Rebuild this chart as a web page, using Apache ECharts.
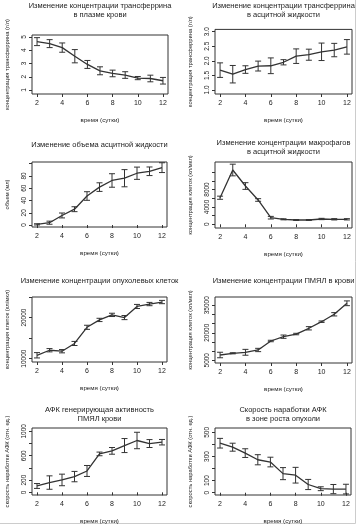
<!DOCTYPE html>
<html><head><meta charset="utf-8">
<script src="https://cdn.jsdelivr.net/npm/echarts@6/dist/echarts.min.js"></script>
<style>html,body{margin:0;padding:0;background:#fff}#c{width:358px;height:528px}</style>
</head><body><div id="c"></div>
<script>
const days = [2,3,4,5,6,7,8,9,10,11,12];
const xTicks = [2,4,6,8,10,12];

const titles = [
  "Изменение концентрации трансферрина\nв плазме крови",
  "Изменение концентрации трансферрина\nв асцитной жидкости",
  "Изменение объема асцитной жидкости",
  "Изменение концентрации макрофагов\nв асцитной жидкости",
  "Изменение концентрации опухолевых клеток",
  "Изменение концентрации ПМЯЛ в крови",
  "АФК генерирующая активность\nПМЯЛ крови",
  "Скорость наработки АФК\nв зоне роста опухоли"
];
const yNames = [
  "концентрация трансферрина (г/л)",
  "концентрация трансферрина (г/л)",
  "объем (мл)",
  "концентрация клеток (кл/мкл)",
  "концентрация клеток (кл/мкл)",
  "концентрация клеток (кл/мкл)",
  "скорость наработки АФК (отн. ед.)",
  "скорость наработки АФК (отн. ед.)"
];
const xName = "время (сутки)";

const mean1 = [4.65,4.5,4.2,3.55,2.93,2.45,2.25,2.13,1.9,1.87,1.7];
const err1  = [0.3,0.3,0.35,0.5,0.3,0.3,0.25,0.25,0.12,0.25,0.25];
const mean2 = [1.68,1.54,1.7,1.82,1.83,1.95,2.16,2.21,2.31,2.37,2.48];
const err2  = [0.25,0.3,0.13,0.17,0.27,0.09,0.25,0.19,0.3,0.23,0.25];
const mean3 = [1.1,3.8,15.6,25.8,47.3,61.8,72.6,76.3,84.4,87.6,93.5];
const err3  = [1,2.5,4,4,7,7,11,14,10,7,8];
const mean4 = [6110,12480,8800,5590,1520,1150,990,990,1220,1150,1150];
const err4  = [360,1340,770,300,300,120,100,100,150,150,150];
const mean5 = [10810,12040,11800,13690,17630,19430,20660,20000,22710,23300,23790];
const err5  = [650,400,400,500,500,400,400,500,500,400,400];
const mean6 = [7860,8800,9340,10600,15500,17850,19300,22430,26030,30070,36070];
const err6  = [1500,300,1600,900,400,900,400,900,400,900,1300];
const mean7 = [104,160,203,258,350,630,680,767,850,800,822];
const err7  = [40,110,95,85,90,30,55,115,135,65,45];
const mean8 = [410,377,328,273,254,158,145,68,33,30,30];
const err8  = [40,33,36,42,40,50,65,42,16,38,40];

const yTicks = [
  [1,2,3,4,5],
  [1.0,1.5,2.0,2.5,3.0],
  [0,20,40,60,80,100],
  [0,2000,4000,6000,8000,10000,12000],
  [10000,15000,20000,25000],
  [5000,10000,15000,20000,25000,30000,35000],
  [0,200,400,600,800,1000],
  [0,100,200,300,400,500]
];
const yLabels = [
  [1,2,3,4,5],
  [1.0,1.5,2.0,2.5,3.0],
  [0,20,40,60,80],
  [0,4000,8000],
  [10000,20000],
  [5000,20000,35000],
  [0,200,600,1000],
  [0,100,300,500]
];
const yRange = [
  [0.7,5.15],[0.86,3.08],[-3.2,102.7],[-850,14320],
  [9170,25020],[3500,39500],[-44,1055],[-19,536]
];
const means = [mean1,mean2,mean3,mean4,mean5,mean6,mean7,mean8];
const errs = [err1,err2,err3,err4,err5,err6,err7,err8];

// layout (px)
const boxes = [
  [32,35,136,59],[215,29.4,137,64.6],
  [32,162,135,65],[215,162,137,66],
  [32,297,135,65],[215,297,137,66],
  [32,428,135,67],[215,428,136,67]
];
const titleTops = [1,1,140,138,276,276,405,405];

const FONT = 'Liberation Sans, Arial, sans-serif';
const TXT = '#222';

function errRender(params, api){
  const x = api.value(0), lo = api.value(1), hi = api.value(2);
  const a = api.coord([x, lo]), b = api.coord([x, hi]);
  const w = 3;
  const st = {stroke:'#333', lineWidth:1, fill:null};
  return {type:'group', children:[
    {type:'line', shape:{x1:a[0],y1:a[1],x2:b[0],y2:b[1]}, style:st},
    {type:'line', shape:{x1:a[0]-w,y1:a[1],x2:a[0]+w,y2:a[1]}, style:st},
    {type:'line', shape:{x1:b[0]-w,y1:b[1],x2:b[0]+w,y2:b[1]}, style:st}
  ]};
}

const grid=[], xAxis=[], yAxis=[], series=[], title=[];
for (let i=0;i<8;i++){
  const [l,t,w,h] = boxes[i];
  grid.push({left:l, top:t, width:w, height:h, show:true, borderColor:'#333', borderWidth:1, backgroundColor:'transparent', containLabel:false});
  xAxis.push({type:'value', gridIndex:i, min:1.6, max:12.4,
    name:xName, nameLocation:'middle', nameGap:23,
    nameTextStyle:{fontFamily:FONT, fontSize:6.2, color:TXT},
    axisLine:{show:false}, splitLine:{show:false},
    axisTick:{show:true, inside:false, length:3, customValues:xTicks, lineStyle:{color:'#333'}},
    axisLabel:{show:true, customValues:xTicks, margin:5.5, fontFamily:FONT, fontSize:7, color:TXT}
  });
  const yl = yLabels[i];
  yAxis.push({type:'value', gridIndex:i, min:yRange[i][0], max:yRange[i][1],
    name:yNames[i], nameLocation:'middle', nameGap:22, nameRotate:90,
    nameTextStyle:{fontFamily:FONT, fontSize:5.8, color:TXT},
    axisLine:{show:false}, splitLine:{show:false},
    axisTick:{show:true, inside:false, length:3, customValues:yTicks[i], lineStyle:{color:'#333'}},
    axisLabel:{show:true, customValues:yl, rotate:90, margin:4, fontFamily:FONT, fontSize:6.5, color:TXT,
      formatter: (v)=> i===1 ? Number(v).toFixed(1) : String(v)}
  });
  const m = means[i], e = errs[i];
  series.push({type:'line', xAxisIndex:i, yAxisIndex:i, data: days.map((d,k)=>[d,m[k]]),
    symbol:'none', lineStyle:{color:'#333', width:1.3}, silent:true, animation:false});
  series.push({type:'custom', xAxisIndex:i, yAxisIndex:i, renderItem:errRender,
    data: days.map((d,k)=>[d, m[k]-e[k], m[k]+e[k]]), encode:{x:0, y:[1,2]}, animation:false, silent:true});
  title.push({text:titles[i], left:l + w/2, top:titleTops[i], textAlign:'center', padding:0,
    textStyle:{fontFamily:FONT, fontSize:7.5, lineHeight:9.5, fontWeight:'normal', color:TXT}});
}

const chart = echarts.init(document.getElementById('c'), null, {renderer:'canvas'});
chart.setOption({
  animation:false, backgroundColor:'#fff',
  title, grid, xAxis, yAxis, series,
  graphic:[
    {type:'line', shape:{x1:355.5,y1:0,x2:355.5,y2:523.5}, style:{stroke:'#ccc', lineWidth:1}},
    {type:'line', shape:{x1:0,y1:523.5,x2:355.5,y2:523.5}, style:{stroke:'#ccc', lineWidth:1}}
  ]
});
</script>
</body></html>
